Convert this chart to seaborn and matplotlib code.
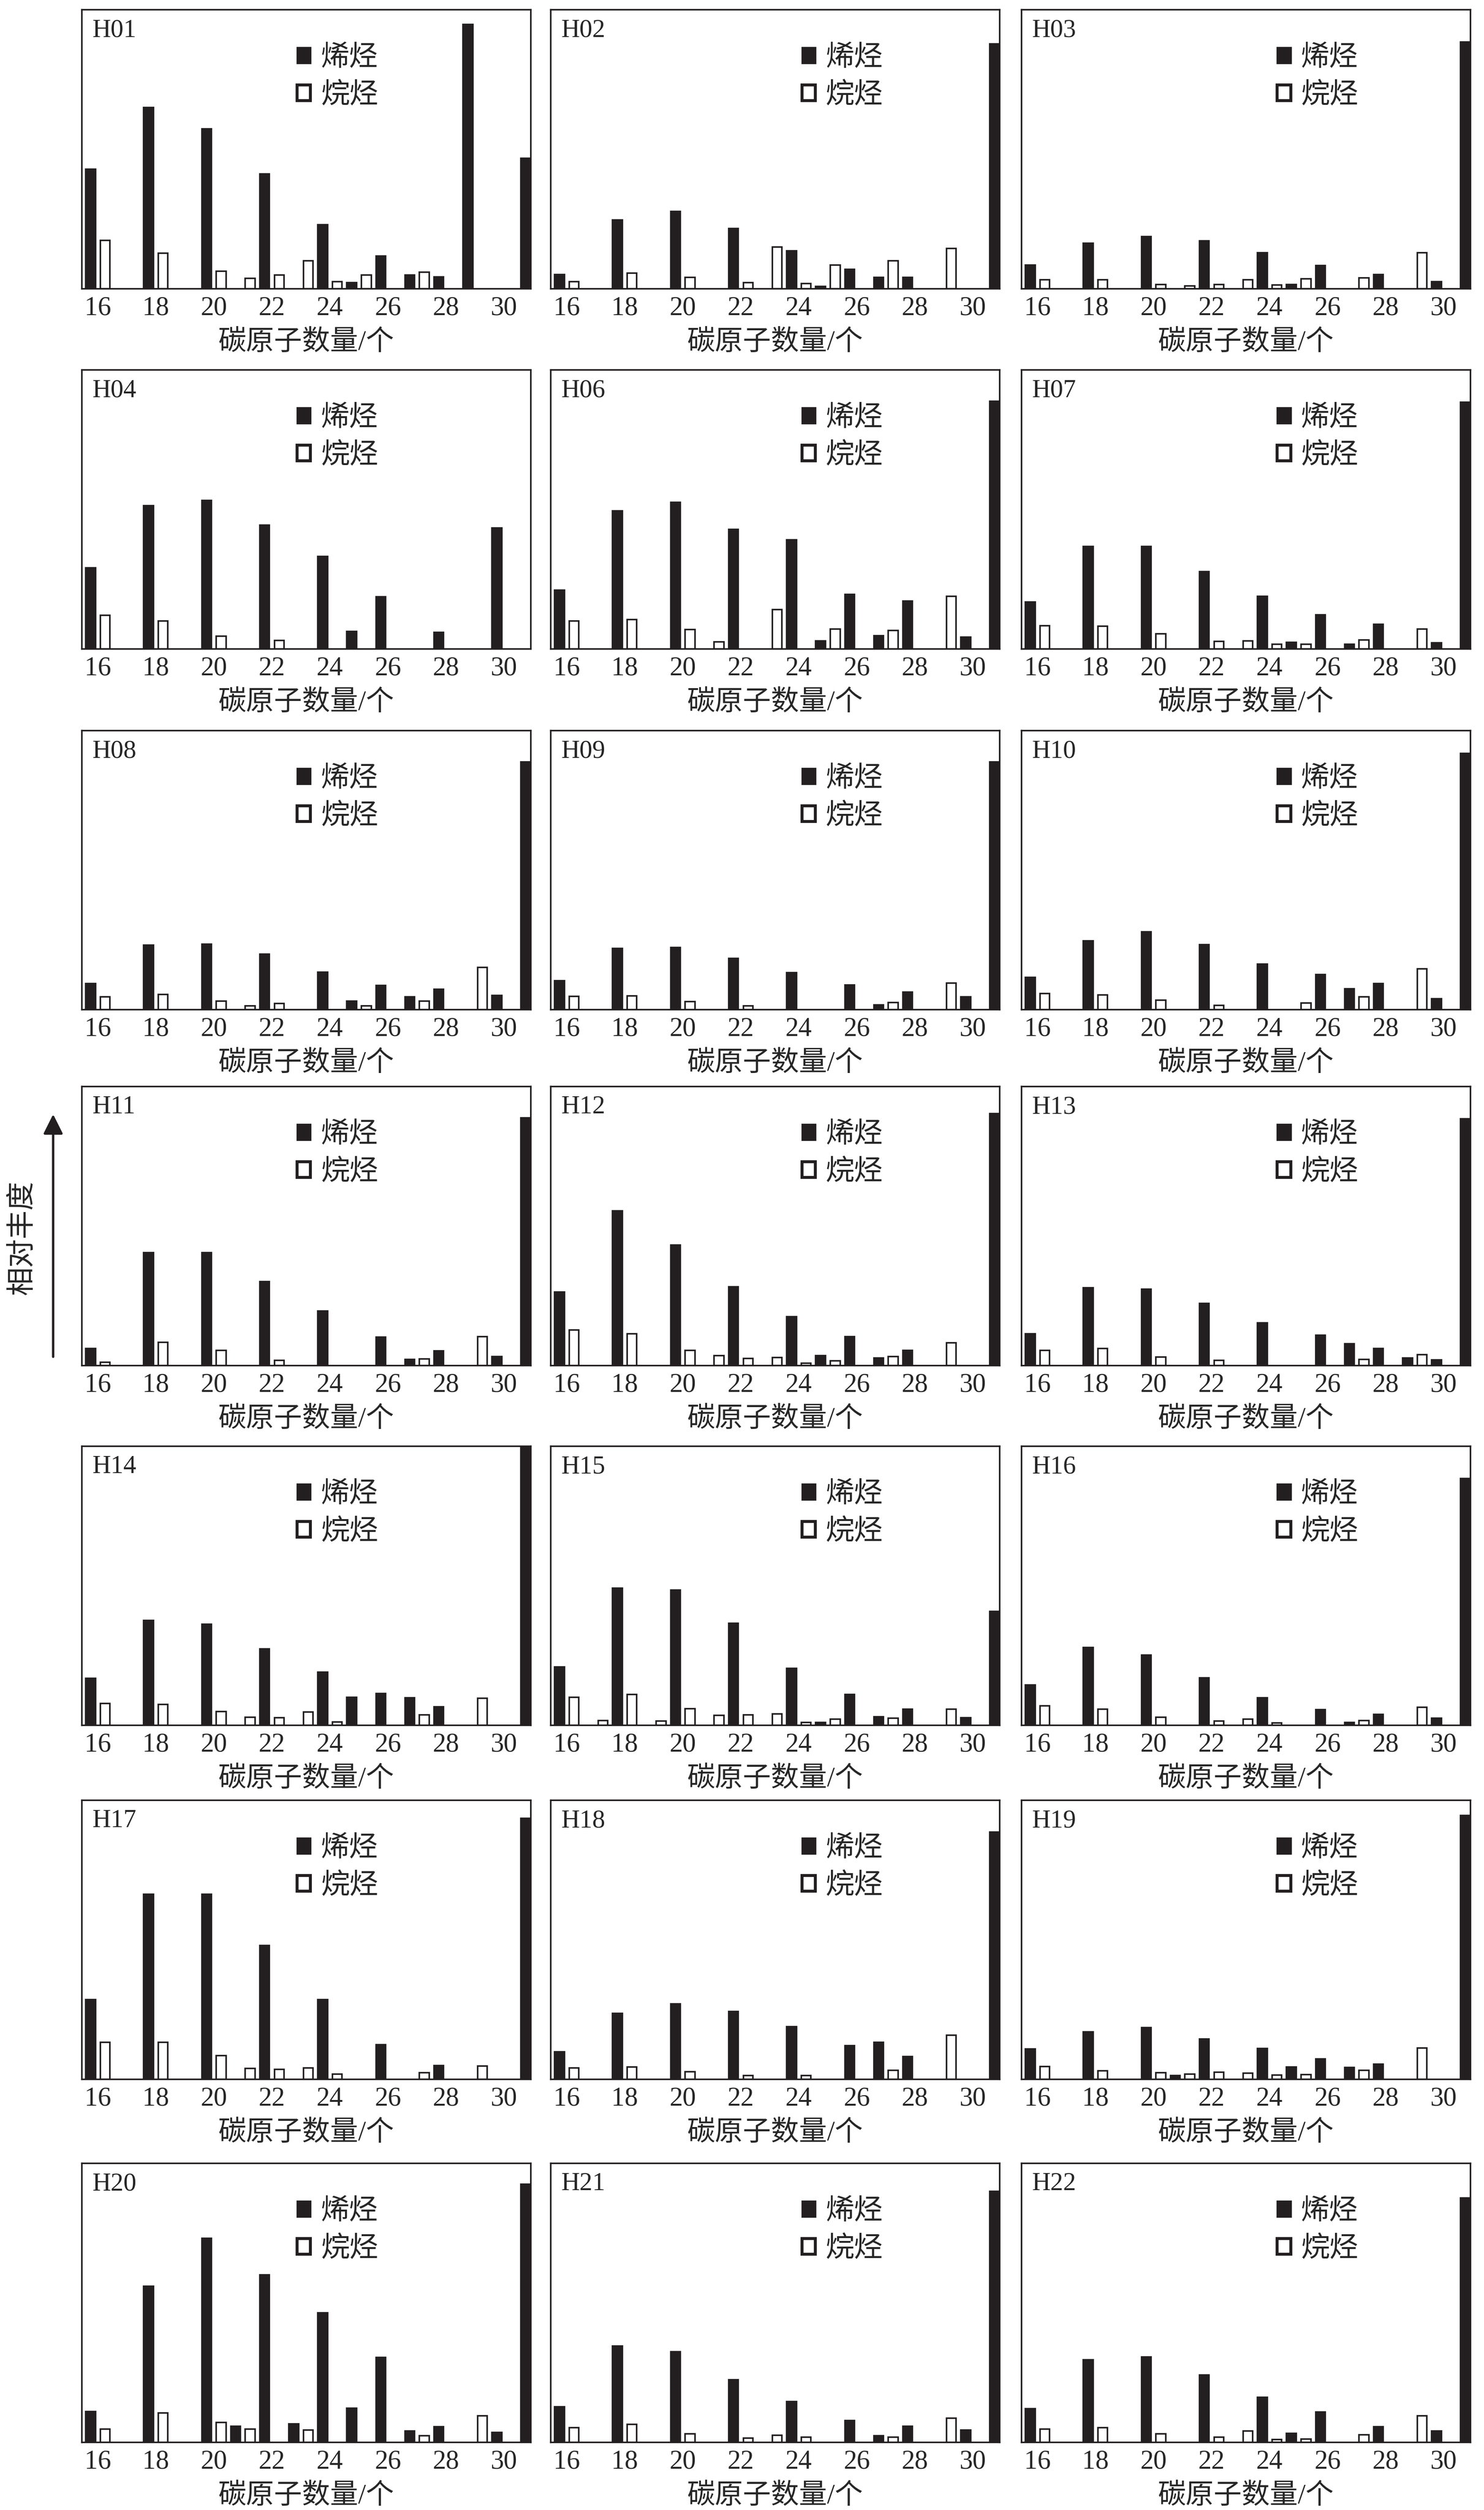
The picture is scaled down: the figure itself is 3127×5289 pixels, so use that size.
import pandas as pd
import seaborn as sns
import matplotlib.pyplot as plt
from matplotlib.patches import Patch, FancyArrowPatch

# carbon numbers on the x axis
carbons = list(range(16, 32))
tick_pos = list(range(0, 16, 2))
tick_labels = ["16", "18", "20", "22", "24", "26", "28", "30"]
samples = ["H01", "H02", "H03", "H04", "H06", "H07", "H08", "H09", "H10", "H11", "H12",
           "H13", "H14", "H15", "H16", "H17", "H18", "H19", "H20", "H21", "H22"]

# relative abundance (% of panel height), carbons 16..31
H01_alkene = [42.9, 0, 64.9, 0, 57.3, 0, 41.1, 0, 22.9, 2.2, 11.7, 4.9, 4.3, 94.8, 0, 46.7]
H01_alkane = [17.3, 0, 12.8, 0, 6.3, 3.7, 4.9, 10.1, 2.5, 4.9, 0, 5.9, 0, 0, 0, 0]
H02_alkene = [5.1, 0, 24.7, 0, 27.8, 0, 21.6, 0, 13.6, 0.8, 7.0, 4.0, 4.0, 0, 0, 87.8]
H02_alkane = [2.5, 0, 5.6, 0, 4.1, 0, 2.2, 15.0, 1.8, 8.5, 0, 10.1, 0, 14.4, 0, 0]
H03_alkene = [8.5, 0, 16.3, 0, 18.7, 0, 17.2, 0, 13.0, 1.5, 8.4, 0, 5.1, 0, 2.5, 88.4]
H03_alkane = [3.3, 0, 3.3, 0, 1.6, 1.0, 1.6, 3.3, 1.4, 3.6, 0, 3.9, 0, 12.9, 0, 0]
H04_alkene = [29.1, 0, 51.3, 0, 53.2, 0, 44.4, 0, 33.2, 6.3, 18.7, 0, 5.9, 0, 43.3, 0]
H04_alkane = [12.0, 0, 10.0, 0, 4.6, 0, 3.0, 0, 0, 0, 0, 0, 0, 0, 0, 0]
H06_alkene = [21.1, 0, 49.5, 0, 52.6, 0, 42.9, 0, 39.2, 2.9, 19.5, 4.8, 17.2, 0, 4.2, 88.8]
H06_alkane = [10.0, 0, 10.5, 0, 6.9, 2.6, 0, 14.2, 0, 7.1, 0, 6.6, 0, 18.9, 0, 0]
H07_alkene = [16.8, 0, 36.7, 0, 36.7, 0, 27.7, 0, 18.9, 2.4, 12.2, 1.7, 8.8, 0, 2.2, 88.4]
H07_alkane = [8.3, 0, 8.1, 0, 5.5, 0, 2.7, 2.9, 1.7, 1.7, 0, 3.2, 0, 7.1, 0, 0]
H08_alkene = [9.4, 0, 23.1, 0, 23.5, 0, 19.9, 0, 13.5, 3.0, 8.7, 4.6, 7.3, 0, 5.1, 88.7]
H08_alkane = [4.6, 0, 5.5, 0, 3.1, 1.3, 2.2, 0, 0, 1.3, 0, 3.1, 0, 15.1, 0, 0]
H09_alkene = [10.4, 0, 21.9, 0, 22.3, 0, 18.4, 0, 13.3, 0, 8.9, 1.7, 6.3, 0, 4.6, 88.7]
H09_alkane = [4.8, 0, 5.0, 0, 2.9, 0, 1.3, 0, 0, 0, 0, 2.6, 0, 9.6, 0, 0]
H10_alkene = [11.5, 0, 24.6, 0, 27.9, 0, 23.3, 0, 16.4, 0, 12.5, 7.5, 9.4, 0, 3.9, 91.9]
H10_alkane = [5.7, 0, 5.2, 0, 3.4, 0, 1.5, 0, 0, 2.4, 0, 4.6, 0, 14.7, 0, 0]
H11_alkene = [6.2, 0, 40.4, 0, 40.4, 0, 30.1, 0, 19.5, 0, 10.2, 2.2, 5.2, 0, 3.2, 88.8]
H11_alkane = [1.2, 0, 8.3, 0, 5.5, 0, 1.8, 0, 0, 0, 0, 2.3, 0, 10.4, 0, 0]
H12_alkene = [26.4, 0, 55.4, 0, 43.2, 0, 28.3, 0, 17.6, 3.6, 10.4, 2.7, 5.4, 0, 0, 90.3]
H12_alkane = [12.8, 0, 11.4, 0, 5.5, 3.6, 2.6, 2.9, 0.9, 1.7, 0, 3.2, 0, 8.1, 0, 0]
H13_alkene = [11.4, 0, 27.9, 0, 27.3, 0, 22.3, 0, 15.3, 0, 10.8, 7.9, 6.2, 2.8, 2.0, 88.4]
H13_alkane = [5.5, 0, 6.2, 0, 3.0, 0, 1.8, 0, 0, 0, 0, 2.2, 0, 3.9, 0, 0]
H14_alkene = [16.8, 0, 37.6, 0, 36.2, 0, 27.4, 0, 19.0, 10.1, 11.4, 9.9, 6.7, 0, 0, 100]
H14_alkane = [7.9, 0, 7.5, 0, 5.0, 2.9, 2.7, 4.7, 1.2, 0, 0, 3.7, 0, 9.7, 0, 0]
H15_alkene = [21.0, 0, 49.2, 0, 48.5, 0, 36.5, 0, 20.4, 1.1, 11.0, 3.0, 5.7, 0, 2.7, 40.9]
H15_alkane = [10.1, 1.7, 11.1, 1.5, 5.9, 3.6, 3.8, 4.0, 1.1, 2.2, 0, 2.5, 0, 5.8, 0, 0]
H16_alkene = [14.4, 0, 27.9, 0, 25.1, 0, 17.0, 0, 9.9, 0, 5.6, 1.0, 3.9, 0, 2.6, 88.4]
H16_alkane = [6.9, 0, 5.8, 0, 2.9, 0, 1.5, 2.2, 0.9, 0, 0, 1.7, 0, 6.4, 0, 0]
H17_alkene = [28.6, 0, 66.4, 0, 66.4, 0, 47.9, 0, 28.6, 0, 12.4, 0, 4.9, 0, 0, 93.6]
H17_alkane = [13.2, 0, 13.3, 0, 8.5, 3.9, 3.6, 4.0, 1.9, 0, 0, 2.4, 0, 4.8, 0, 0]
H18_alkene = [9.8, 0, 23.7, 0, 27.1, 0, 24.3, 0, 18.9, 0, 12.1, 13.3, 8.1, 0, 0, 88.6]
H18_alkane = [4.0, 0, 4.4, 0, 2.7, 0, 1.3, 0, 1.3, 0, 0, 3.2, 0, 15.9, 0, 0]
H19_alkene = [10.8, 0, 17.0, 0, 18.5, 1.3, 14.5, 0, 11.0, 4.4, 7.3, 4.2, 5.4, 0, 0, 94.6]
H19_alkane = [4.6, 0, 3.1, 0, 2.4, 1.9, 2.6, 2.2, 1.5, 1.7, 0, 3.2, 0, 11.3, 0, 0]
H20_alkene = [11.1, 0, 55.9, 0, 73.1, 5.7, 60.1, 6.7, 46.4, 12.2, 30.4, 4.0, 5.6, 0, 3.5, 92.5]
H20_alkane = [4.7, 0, 10.6, 0, 7.1, 4.8, 0, 4.4, 0, 0, 0, 2.4, 0, 9.5, 0, 0]
H21_alkene = [12.8, 0, 34.5, 0, 32.5, 0, 22.5, 0, 14.7, 0, 7.9, 2.4, 5.7, 0, 4.5, 90.0]
H21_alkane = [5.2, 0, 6.4, 0, 3.0, 0, 1.5, 2.5, 1.8, 0, 0, 1.8, 0, 8.7, 0, 0]
H22_alkene = [12.1, 0, 29.6, 0, 30.6, 0, 24.1, 0, 16.1, 3.2, 10.9, 0, 5.6, 0, 4.0, 87.6]
H22_alkane = [4.8, 0, 5.2, 0, 3.0, 0, 1.9, 4.0, 1.1, 1.2, 0, 2.8, 0, 9.5, 0, 0]

data = {s: (globals()[s + "_alkene"], globals()[s + "_alkane"]) for s in samples}

black = "#231f20"
sns.set_style("white")
plt.rcParams['font.family'] = ['Liberation Serif', 'Noto Sans CJK SC']
plt.rcParams['axes.edgecolor'] = black

W, H = 3128, 5289
fig = plt.figure(figsize=(W / 300, H / 300), dpi=300)

col_left = [172, 1160, 2152]
row_top = [20, 779, 1539, 2289, 3047, 3793, 4558]
leg_x = [0.48, 0.56, 0.57]
ax_w, ax_h = 946, 588

for i, name in enumerate(samples):
    r, c = divmod(i, 3)
    ax = fig.add_axes([col_left[c] / W, 1 - (row_top[r] + ax_h) / H, ax_w / W, ax_h / H])
    alkene, alkane = data[name]
    df = pd.DataFrame({
        "carbon": carbons + carbons,
        "value": alkene + alkane,
        "type": ["烯烃"] * 16 + ["烷烃"] * 16,
    })
    df = df[df["value"] > 0]
    sns.barplot(data=df, x="carbon", y="value", hue="type", order=carbons,
                hue_order=["烯烃", "烷烃"], palette={"烯烃": black, "烷烃": "white"},
                saturation=1, width=1.0, gap=0.33, edgecolor=black, linewidth=0.8,
                errorbar=None, legend=False, ax=ax)
    ax.set_xlim(-0.55, 14.92)
    ax.set_ylim(0, 100)
    ax.set_xticks(tick_pos)
    ax.set_xticklabels(tick_labels)
    ax.set_yticks([])
    ax.set_ylabel("")
    ax.tick_params(axis="x", length=0, labelsize=13.5, pad=3.8)
    ax.set_xlabel("碳原子数量/个", fontsize=14.2, labelpad=4.5)
    for sp in ax.spines.values():
        sp.set_linewidth(0.8)
        sp.set_color(black)
    ax.text(0.024, 0.925, name, transform=ax.transAxes, fontsize=13, va="center", ha="left")
    handles = [Patch(facecolor=black, edgecolor=black, linewidth=0.8, label="烯烃"),
               Patch(facecolor="white", edgecolor=black, linewidth=1.5, label="烷烃")]
    ax.legend(handles=handles, loc="center left", bbox_to_anchor=(leg_x[c], 0.757),
              frameon=False, fontsize=14.5, handlelength=0.47, handleheight=0.47,
              handletextpad=0.35, labelspacing=0.38, borderpad=0, borderaxespad=0)

# shared y label with arrow
fig.text(48 / W, 1 - 2608 / H, "相对丰度", rotation=90, fontsize=14.5, ha="center", va="center")
arrow = FancyArrowPatch((112 / W, 1 - 2859 / H), (112 / W, 1 - 2348 / H),
                        transform=fig.transFigure, arrowstyle="-|>,head_length=0.42,head_width=0.21",
                        mutation_scale=20, linewidth=1.2, color=black, shrinkA=0, shrinkB=0)
fig.patches.append(arrow)

fig.savefig("out.png", dpi=300)
